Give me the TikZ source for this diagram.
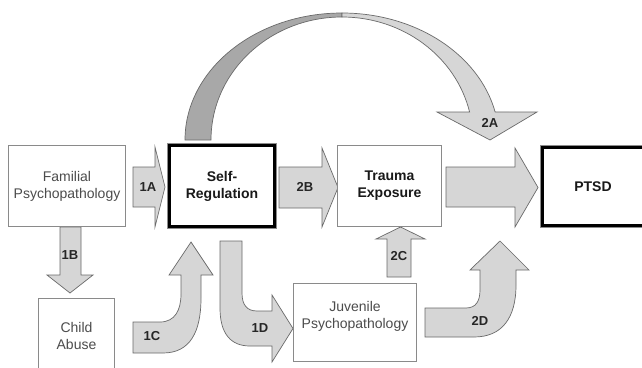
\documentclass[tikz,border=0pt]{standalone}
\usepackage{fontspec}
\setmainfont{Liberation Sans}
\definecolor{arrowfill}{HTML}{D6D6D6}
\definecolor{darkfill}{HTML}{A8A8A8}
\definecolor{arrowline}{HTML}{6A6A6A}
\definecolor{boxline}{HTML}{8A8A8A}
\definecolor{txtgray}{HTML}{4C4C4C}
\begin{document}
\begin{tikzpicture}[x=1pt,y=-1pt,
  box/.style={draw=boxline, line width=0.9pt, fill=white, inner sep=0pt, align=center,
    font=\fontsize{14}{17}\selectfont, text=txtgray},
  keybox/.style={box, draw=black, line width=3pt, preaction={draw=black!45, line width=5pt},
    font=\bfseries\fontsize{14}{17}\selectfont, text=black!90},
  boldbox/.style={box, font=\bfseries\fontsize{14}{17}\selectfont, text=black!90},
  blk/.style={fill=arrowfill, draw=arrowline, line width=0.7pt, line join=miter},
  lbl/.style={font=\bfseries\fontsize{13}{13}\selectfont, text=black!85, inner sep=0pt},
  txt/.style={font=\fontsize{14}{17}\selectfont, text=txtgray, align=center, inner sep=0pt}]
\clip (0,0) rectangle (642,367);
\fill[white] (0,0) rectangle (642,367);

% big curved arrow 2A
\draw[blk, fill=darkfill] (185,140) arc[start angle=180, end angle=270, x radius=157, y radius=127]
  -- (342,17) arc[start angle=270, end angle=180, x radius=131, y radius=123] -- cycle;
\draw[blk] (342,13) arc[start angle=270, end angle=347.26, x radius=157, y radius=127]
  -- (537,112) -- (490,140) -- (437,112) -- (469.6,112)
  arc[start angle=346.84, end angle=270, x radius=131, y radius=123] -- cycle;

% straight arrows
\draw[blk] (133,167) -- (155,167) -- (155,147) -- (165,187) -- (155,227) -- (155,207) -- (133,207) -- cycle;
\draw[blk] (279,167) -- (322,167) -- (322,148) -- (338,187.5) -- (322,227) -- (322,208) -- (279,208) -- cycle;
\draw[blk] (446,167) -- (515,167) -- (515,148) -- (538,187.5) -- (515,227) -- (515,207) -- (446,207) -- cycle;
\draw[blk] (60,227) -- (81,227) -- (81,275) -- (93,275) -- (70,293) -- (47,275) -- (60,275) -- cycle;
\draw[blk] (387,277) -- (411,277) -- (411,239) -- (425,239) -- (400.5,227) -- (376,239) -- (387,239) -- cycle;

% bent arrows
\draw[blk] (133,322) -- (160,322) .. controls (175,322) and (181,310) .. (181,294) -- (181,275)
  -- (169,275) -- (191,242) -- (213,275) -- (201,275) -- (201,298)
  .. controls (201,332) and (190,353) .. (163,353) -- (133,353) -- cycle;
\draw[blk] (220,241) -- (242,241) -- (242,293) .. controls (242,305) and (247,311) .. (257,311)
  -- (272,311) -- (272,295) -- (293,328.5) -- (272,362) -- (272,346) -- (250,346)
  .. controls (231,346) and (220,334) .. (220,308) -- cycle;
\draw[blk] (425,308) -- (466,308) .. controls (476,308) and (480,301) .. (480,290) -- (480,270)
  -- (470,270) -- (500,241) -- (529,270) -- (516,270) -- (516,285)
  .. controls (516,318) and (502,337) .. (474,337) -- (425,337) -- cycle;

% boxes
\node[box, minimum width=117pt, minimum height=81pt] (fam) at (67,186) {Familial\\Psychopathology};
\node[keybox, minimum width=105pt, minimum height=81pt] (self) at (222,186) {Self-\\Regulation};
\node[boldbox, minimum width=104pt, minimum height=81pt] (trauma) at (389.5,186) {Trauma\\Exposure};
\node[keybox, minimum width=102.5pt, minimum height=78pt] (ptsd) at (593.75,186.5) {};
\node[txt, font=\bfseries\fontsize{14}{17}\selectfont, text=black!90] (ptsdt) at (593,186.5) {PTSD};
\node[box, minimum width=76pt, minimum height=76pt] (child) at (76.5,336) {Child\\Abuse};
\node[box, minimum width=123pt, minimum height=78pt] (juv) at (355,322.5) {};
\node[txt] (juvt) at (355,316) {Juvenile\\Psychopathology};

% labels
\node[lbl] (l1a) at (148,187) {1A};
\node[lbl] (l2b) at (305,187) {2B};
\node[lbl] (l1b) at (70,255) {1B};
\node[lbl] (l1c) at (152,336) {1C};
\node[lbl] (l1d) at (260,328) {1D};
\node[lbl] (l2c) at (399,256) {2C};
\node[lbl] (l2d) at (480,321) {2D};
\node[lbl] (l2a) at (490,123) {2A};
\end{tikzpicture}
\end{document}
